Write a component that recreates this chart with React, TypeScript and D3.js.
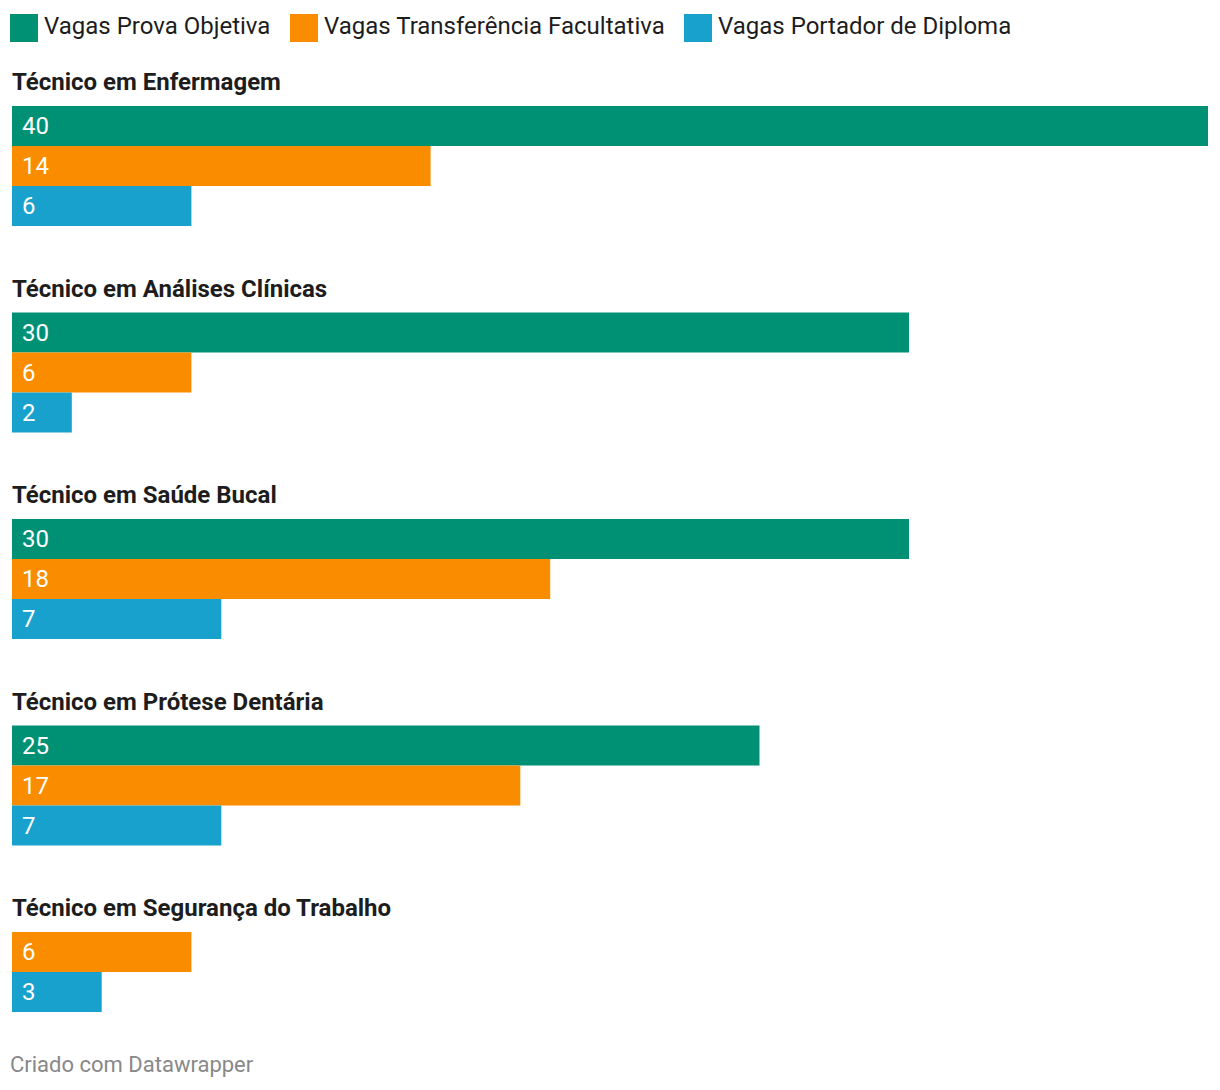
import React from "react";
import * as d3 from "d3";

const categories = [
  "Técnico em Enfermagem",
  "Técnico em Análises Clínicas",
  "Técnico em Saúde Bucal",
  "Técnico em Prótese Dentária",
  "Técnico em Segurança do Trabalho",
];
const seriesNames = ["Vagas Prova Objetiva", "Vagas Transferência Facultativa", "Vagas Portador de Diploma"];
const seriesColors = ["#009175", "#fa8c00", "#18a1cd"];
const provaObjetiva = [40, 30, 30, 25, 0];
const transferencia = [14, 6, 18, 17, 6];
const portadorDiploma = [6, 2, 7, 7, 3];

const W = 1220;
const H = 1090;

export default function App() {
  const x = d3.scaleLinear().domain([0, 40]).range([12, 1208]);
  const groupY = d3.scaleLinear().domain([0, 4]).range([106, 932]);
  const barH = 40;
  const series = [provaObjetiva, transferencia, portadorDiploma];
  const font = "Roboto, sans-serif";
  const legendX = [10, 290, 684];

  return (
    <div style={{ position: "absolute", left: 0, top: 0 }}>
      <svg width={W} height={H} style={{ display: "block", background: "#fff" }}>
        {seriesNames.map((n, i) => (
          <g key={n}>
            <rect x={legendX[i]} y={14} width={28} height={28} fill={seriesColors[i]} />
            <text x={legendX[i] + 34} y={34} fontFamily={font} fontSize={24} fill="#1d1d1d">
              {n}
            </text>
          </g>
        ))}
        {categories.map((c, g) => {
          const top = groupY(g);
          const bars = series
            .map((s, si) => ({ v: s[g], si }))
            .filter((b) => b.v > 0);
          return (
            <g key={c}>
              <text x={12} y={top - 16} fontFamily={font} fontSize={24} fontWeight={700} fill="#1d1d1d">
                {c}
              </text>
              {bars.map((b, k) => (
                <g key={b.si}>
                  <rect
                    x={x(0)}
                    y={top + k * barH}
                    width={x(b.v) - x(0)}
                    height={barH}
                    fill={seriesColors[b.si]}
                  />
                  <text
                    x={22}
                    y={top + k * barH + 28}
                    fontFamily={font}
                    fontSize={24}
                    fill="#ffffff"
                  >
                    {b.v}
                  </text>
                </g>
              ))}
            </g>
          );
        })}
        <text x={10} y={1072} fontFamily={font} fontSize={22} fill="#888888">
          Criado com Datawrapper
        </text>
      </svg>
    </div>
  );
}
